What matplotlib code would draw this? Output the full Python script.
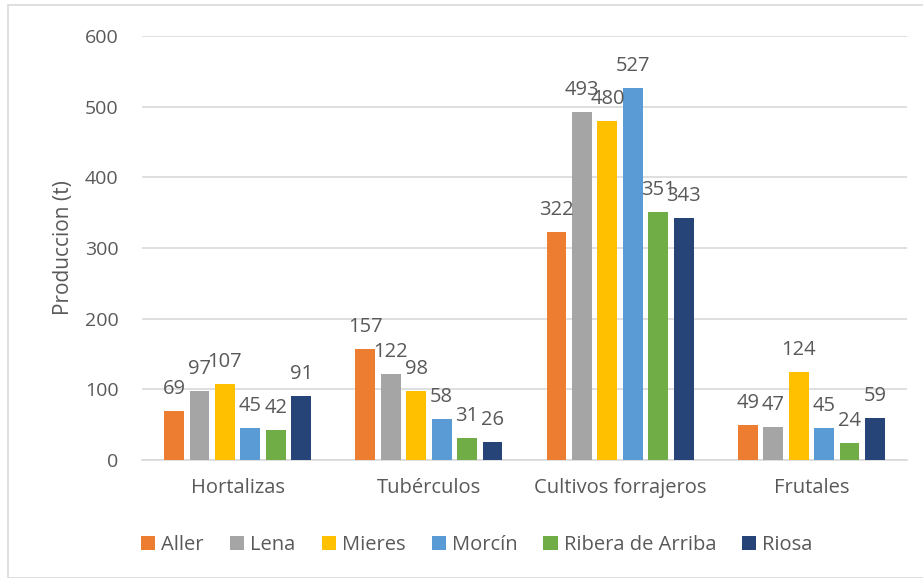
import matplotlib
matplotlib.use("Agg")
import matplotlib.pyplot as plt
import numpy as np
from matplotlib.patches import Rectangle

categories = ["Hortalizas", "Tubérculos", "Cultivos forrajeros", "Frutales"]
series = ["Aller", "Lena", "Mieres", "Morcín", "Ribera de Arriba", "Riosa"]
aller = [69, 157, 322, 49]
lena = [97, 122, 493, 47]
mieres = [107, 98, 480, 124]
morcin = [45, 58, 527, 45]
ribera = [42, 31, 351, 24]
riosa = [91, 26, 343, 59]
values = [aller, lena, mieres, morcin, ribera, riosa]
colors = ["#ED7D31", "#A5A5A5", "#FFC000", "#5B9BD5", "#70AD47", "#264478"]
yticks = [0, 100, 200, 300, 400, 500, 600]

plt.rcParams['font.family'] = ['Open Sans', 'DejaVu Sans']
txt = "#595959"

fig = plt.figure(figsize=(9.23, 5.78), dpi=100)
fig.patches.append(Rectangle((8/923, 0), 1, 1 - 5/578, transform=fig.transFigure,
                             fill=False, edgecolor="#d9d9d9", linewidth=1.2))
ax = fig.add_axes([142/923, 1 - 460/578, (907 - 142)/923, (460 - 36)/578])

x = np.arange(len(categories))
step = 0.133
bw = 0.104
for i, (s, v, c) in enumerate(zip(series, values, colors)):
    pos = x + (i - 2.5) * step
    ax.bar(pos, v, width=bw, color=c, label=s, zorder=3)
    for p, val in zip(pos, v):
        ax.text(p, val + 17, str(val), ha="center", va="bottom", fontsize=14.5,
                color=txt, zorder=4)

ax.set_ylim(0, 600)
ax.set_xlim(-0.5, 3.5)
ax.set_yticks(yticks)
ax.set_xticks(x)
ax.set_xticklabels(categories)
ax.yaxis.grid(True, color="#d9d9d9", linewidth=1.2, zorder=0)
for sp in ["top", "right", "left"]:
    ax.spines[sp].set_visible(False)
ax.spines["bottom"].set_color("#d9d9d9")
ax.spines["bottom"].set_linewidth(1.2)
ax.tick_params(axis="both", length=0, colors=txt, labelsize=14)
ax.tick_params(axis="x", labelsize=14.5, pad=13)
ax.tick_params(axis="y", pad=17)
ax.set_ylabel("Produccion (t)", fontsize=15, color=txt, labelpad=8)

leg = fig.legend(loc="center", bbox_to_anchor=(477/923, 1 - 545/578), ncol=6, frameon=False,
                 fontsize=14.5, handlelength=0.7, handleheight=0.7, handletextpad=0.3,
                 columnspacing=1.3)
for t in leg.get_texts():
    t.set_color(txt)

fig.savefig("out.png", dpi=100)
